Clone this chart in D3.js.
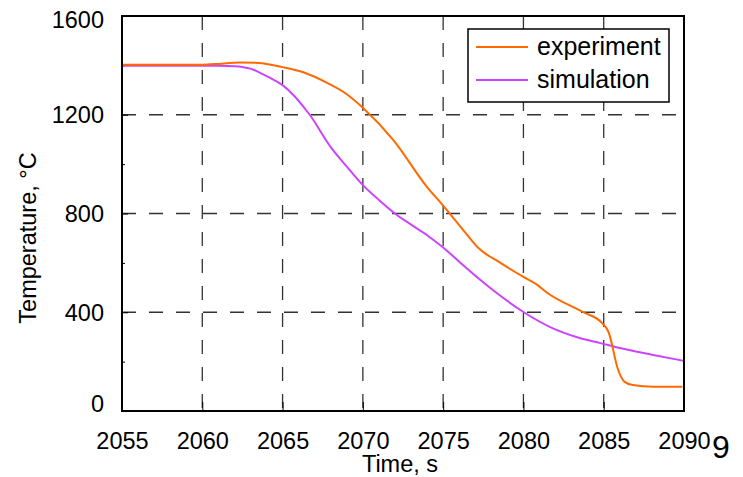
<!DOCTYPE html>
<html>
<head>
<meta charset="utf-8">
<script src="https://cdn.jsdelivr.net/npm/d3@7"></script>
<style>
  body { margin: 0; background: #fff; }
  svg text { font-family: "Liberation Sans", Arial, sans-serif; fill: #000; }
</style>
</head>
<body>
<div id="chart"></div>
<script>
// ---------------- data ----------------
var expTime = [2055, 2060, 2061, 2062.3, 2063.5, 2065, 2066.3, 2067.8, 2069, 2070, 2071.9, 2074, 2075, 2075.9, 2076.5, 2077.2, 2078.5, 2080, 2080.8, 2081.5, 2083.7, 2084.9, 2085.3, 2085.9, 2086.3, 2086.8, 2088.1, 2089.9];
var expTemp = [1403, 1403, 1406, 1412, 1410, 1393, 1372, 1328, 1283, 1228, 1097, 907, 832, 761, 713, 660, 603, 543, 514, 478, 401, 356, 320, 166, 118, 105, 98, 98];

var simTime = [2055, 2060, 2061, 2062, 2062.5, 2063, 2063.6, 2064.2, 2065, 2066.7, 2068, 2069, 2070, 2071, 2072, 2073, 2074, 2075, 2076, 2077.1, 2078.5, 2080, 2081.8, 2083.3, 2084.8, 2086, 2088, 2090];
var simTemp = [1398, 1398, 1398, 1396, 1393, 1387, 1370, 1350, 1320, 1199, 1069, 990, 915, 855, 800, 755, 712, 662, 605, 543, 470, 401, 336, 300, 275, 255, 228, 203];

var xTicks = [2055, 2060, 2065, 2070, 2075, 2080, 2085, 2090];
var yTicks = [0, 400, 800, 1200, 1600];
var yMinor = [200, 600, 1000, 1400];
var seriesNames = ["experiment", "simulation"];
var seriesColors = ["#ff6a00", "#cc44ff"];

// ---------------- layout ----------------
var W = 743, H = 477;
var mLeft = 122, mTop = 16, pw = 562, ph = 395;

var svg = d3.select("#chart").append("svg").attr("width", W).attr("height", H);
var g = svg.append("g").attr("transform", "translate(" + mLeft + "," + mTop + ")");

var x = d3.scaleLinear().domain([2055, 2090]).range([0, pw]);
var y = d3.scaleLinear().domain([0, 1600]).range([ph, 0]);

// grid (dashed)
g.append("g").selectAll("line").data(xTicks.slice(1, -1)).join("line")
    .attr("x1", d => x(d)).attr("x2", d => x(d)).attr("y1", 0).attr("y2", ph)
    .attr("stroke", "#333").attr("stroke-width", 1.3).attr("stroke-dasharray", "14,13");
g.append("g").selectAll("line").data(yTicks.slice(1, -1)).join("line")
    .attr("y1", d => y(d)).attr("y2", d => y(d)).attr("x1", 0).attr("x2", pw)
    .attr("stroke", "#333").attr("stroke-width", 1.3).attr("stroke-dasharray", "14,13");

// inward ticks
var xAx = g.append("g").attr("transform", "translate(0," + ph + ")")
    .call(d3.axisBottom(x).tickValues(xTicks).tickSize(-9).tickFormat(d3.format("d")).tickPadding(21));
xAx.select(".domain").remove();
xAx.selectAll("text").style("font-size", "23.5px");

var yAx = g.append("g")
    .call(d3.axisLeft(y).tickValues(yTicks).tickSize(-6).tickFormat(d3.format("d")).tickPadding(18));
yAx.select(".domain").remove();
yAx.selectAll("text").style("font-size", "23.5px")
    .attr("dy", d => d === 0 ? "0.02em" : d === 1600 ? "0.5em" : "0.34em");

g.append("g").call(d3.axisLeft(y).tickValues(yMinor).tickSize(-3).tickFormat(""))
    .select(".domain").remove();

// lines
var line = d3.line().curve(d3.curveMonotoneX).x(d => x(d[0])).y(d => y(d[1]));
g.append("path").datum(d3.zip(simTime, simTemp))
    .attr("d", line).attr("fill", "none").attr("stroke", seriesColors[1]).attr("stroke-width", 2);
g.append("path").datum(d3.zip(expTime, expTemp))
    .attr("d", line).attr("fill", "none").attr("stroke", seriesColors[0]).attr("stroke-width", 2);

// frame
g.append("rect").attr("width", pw).attr("height", ph)
    .attr("fill", "none").attr("stroke", "#000").attr("stroke-width", 2);

// legend
var lg = svg.append("g").attr("transform", "translate(468,29)");
lg.append("rect").attr("width", 201).attr("height", 73)
    .attr("fill", "#fff").attr("stroke", "#000").attr("stroke-width", 1.5);
seriesNames.forEach(function (n, i) {
    var ly = 18 + i * 33;
    lg.append("line").attr("x1", 8).attr("x2", 60).attr("y1", ly).attr("y2", ly)
        .attr("stroke", seriesColors[i]).attr("stroke-width", 2);
    lg.append("text").attr("x", 69).attr("y", ly + 8).style("font-size", "25px").text(n);
});

// axis titles
svg.append("text").attr("x", 400).attr("y", 472).attr("text-anchor", "middle")
    .style("font-size", "23.5px").text("Time, s");
svg.append("text").attr("transform", "translate(36,238) rotate(-90)").attr("text-anchor", "middle")
    .style("font-size", "23.5px").text("Temperature, °C");

// stray glyph on the right
svg.append("text").attr("x", 712).attr("y", 458).style("font-size", "32px").text("9");
</script>
</body>
</html>
